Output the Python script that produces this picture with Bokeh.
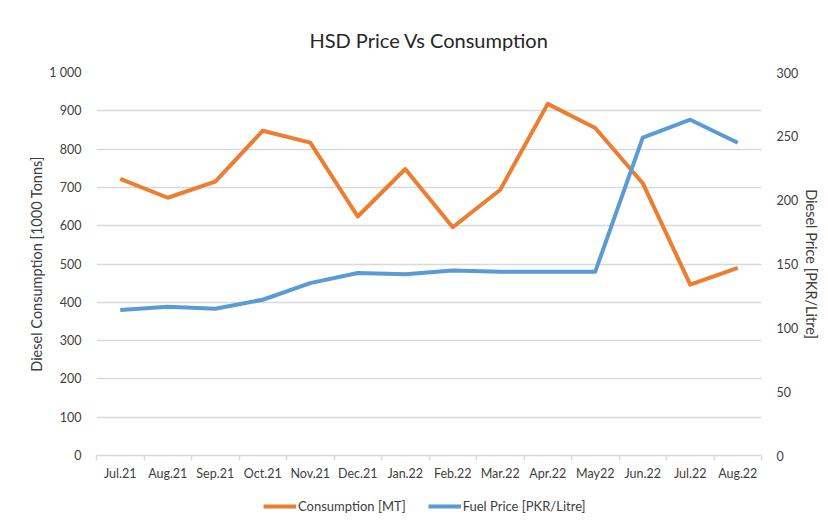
from bokeh.plotting import figure
from bokeh.layouts import column
from bokeh.models import Range1d, LinearAxis, FixedTicker, Legend, LegendItem, ColumnDataSource
from bokeh.embed import file_html
from bokeh.resources import INLINE

months = ["Jul.21", "Aug.21", "Sep.21", "Oct.21", "Nov.21", "Dec.21", "Jan.22",
          "Feb.22", "Mar.22", "Apr.22", "May22", "Jun.22", "Jul.22", "Aug.22"]
consumption = [722, 673, 715, 848, 817, 624, 748, 596, 694, 918, 855, 711, 446, 490]
fuel_price = [114, 116.5, 115, 122, 135, 143, 142, 145, 144, 144, 144, 249, 263, 245]
left_ticks = [0, 100, 200, 300, 400, 500, 600, 700, 800, 900, 1000]
right_ticks = [0, 50, 100, 150, 200, 250, 300]
series_names = ["Consumption [MT]", "Fuel Price [PKR/Litre]"]
series_cols = ["cons", "price"]
series_colors = ["#ED7D31", "#5B9BD5"]

FONT = "Lato"
TXT = "#404040"
GRID = "#d9d9d9"

n = len(months)
xpos = [i + 0.5 for i in range(n)]
src = ColumnDataSource(dict(x=xpos, cons=consumption, price=fuel_price))

p = figure(width=826, height=490, output_backend="svg", toolbar_location=None,
           x_range=Range1d(0, n), y_range=Range1d(0, 1000),
           min_border_left=96, min_border_right=65, min_border_top=72, min_border_bottom=35)
p.outline_line_color = None
p.extra_y_ranges = {"price": Range1d(0, 300)}

p.title.text = "HSD Price Vs Consumption"
p.title.align = "center"
p.title.text_font = FONT
p.title.text_font_size = "20px"
p.title.text_font_style = "normal"
p.title.text_color = "#262626"
p.title.standoff = 41

# x axis
xa = p.xaxis[0]
xa.ticker = FixedTicker(ticks=xpos, minor_ticks=list(range(n + 1)))
xa.major_label_overrides = {x: m for x, m in zip(xpos, months)}
xa.major_tick_out = 0
xa.major_tick_in = 0
xa.minor_tick_out = 5
xa.minor_tick_in = 0
xa.minor_tick_line_color = GRID
xa.minor_tick_line_width = 1.5
xa.axis_line_color = GRID
xa.axis_line_width = 1.5
xa.major_label_standoff = 5
xa.major_label_text_font = FONT
xa.major_label_text_font_size = "12.5px"
xa.major_label_text_color = TXT

# left axis
ya = p.yaxis[0]
ya.ticker = FixedTicker(ticks=left_ticks)
ya.major_label_overrides = {1000: "1 000"}
ya.axis_line_color = None
ya.major_tick_line_color = None
ya.minor_tick_line_color = None
ya.major_label_standoff = 9
ya.major_label_text_font = FONT
ya.major_label_text_font_size = "12.5px"
ya.major_label_text_color = TXT
ya.axis_label = "Diesel Consumption [1000 Tonns]"
ya.axis_label_text_font = FONT
ya.axis_label_text_font_size = "14.5px"
ya.axis_label_text_font_style = "normal"
ya.axis_label_text_color = TXT
ya.axis_label_standoff = 1

# right axis
ra = LinearAxis(y_range_name="price", ticker=FixedTicker(ticks=right_ticks))
ra.axis_line_color = None
ra.major_tick_line_color = None
ra.minor_tick_line_color = None
ra.major_label_standoff = 9
ra.major_label_text_font = FONT
ra.major_label_text_font_size = "12.5px"
ra.major_label_text_color = TXT
ra.axis_label = "Diesel Price [PKR/Litre]"
ra.axis_label_text_font = FONT
ra.axis_label_text_font_size = "14.5px"
ra.axis_label_text_font_style = "normal"
ra.axis_label_text_color = TXT
ra.axis_label_standoff = 2
p.add_layout(ra, "right")

p.xgrid.grid_line_color = None
p.ygrid.grid_line_color = GRID
p.ygrid.grid_line_width = 1.5

p.line("x", "cons", source=src, line_color=series_colors[0], line_width=4, line_join="round")
p.line("x", "price", source=src, y_range_name="price", line_color=series_colors[1],
       line_width=4, line_join="round")

# legend strip below the chart (its lines fall outside its own view; only the legend shows)
lp = figure(width=826, height=30, output_backend="svg", toolbar_location=None,
            x_range=Range1d(0, 0.001), y_range=Range1d(0, 0.001),
            min_border_left=0, min_border_right=0, min_border_top=0, min_border_bottom=0)
lp.axis.visible = False
lp.grid.visible = False
lp.outline_line_color = None
items = []
for name, colname, col in zip(series_names, series_cols, series_colors):
    r = lp.line("x", colname, source=src, line_color=col, line_width=4)
    items.append(LegendItem(label=name, renderers=[r]))
legend = Legend(items=items, location=(167, 6), orientation="horizontal",
                glyph_width=33, glyph_height=16, label_standoff=2, spacing=22,
                padding=0, margin=0, border_line_alpha=0, background_fill_alpha=0,
                label_text_font=FONT, label_text_font_size="13px", label_text_color=TXT)
lp.add_layout(legend)

layout = column(p, lp, spacing=0)
open("out.html", "w").write(file_html(layout, INLINE))
